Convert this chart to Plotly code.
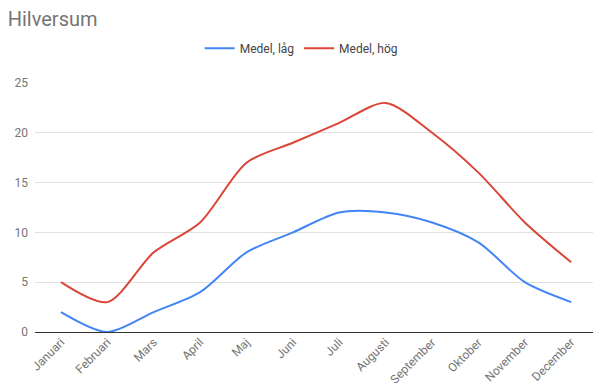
import plotly.graph_objects as go

months = ["Januari", "Februari", "Mars", "April", "Maj", "Juni", "Juli",
          "Augusti", "September", "Oktober", "November", "December"]
low = [2, 0, 2, 4, 8, 10, 12, 12, 11, 9, 5, 3]
high = [5, 3, 8, 11, 17, 19, 21, 23, 20, 16, 11, 7]
y_ticks = [0, 5, 10, 15, 20, 25]

fig = go.Figure()
fig.add_trace(go.Scatter(x=months, y=low, name="Medel, låg", mode="lines",
                         line=dict(color="#4285F4", width=2, shape="spline", smoothing=0.8)))
fig.add_trace(go.Scatter(x=months, y=high, name="Medel, hög", mode="lines",
                         line=dict(color="#DB4437", width=2, shape="spline", smoothing=0.8)))

fig.update_layout(
    width=593, height=389,
    margin=dict(l=35, r=0, t=83, b=57),
    paper_bgcolor="white", plot_bgcolor="white",
    font=dict(family="Roboto, Arial, sans-serif", color="#757575", size=12),
    title=dict(text="Hilversum", x=0.013, xanchor="left", y=0.95, yanchor="middle",
               font=dict(size=20, color="#757575")),
    legend=dict(orientation="h", x=0.477, xanchor="center",
                y=1.14, yanchor="middle",
                font=dict(size=12, color="#444444"), itemwidth=30),
    xaxis=dict(range=[-0.56, 11.47], tickangle=-45, showgrid=False, showline=False,
               ticks="", tickfont=dict(size=12, color="#757575")),
    yaxis=dict(range=[0, 25], tickvals=y_ticks, showgrid=True, gridcolor="#e0e0e0",
               zeroline=True, zerolinecolor="#333333", zerolinewidth=1,
               ticks="", ticklabelstandoff=6, tickfont=dict(size=12, color="#757575")),
)

fig.write_html("out.html")
